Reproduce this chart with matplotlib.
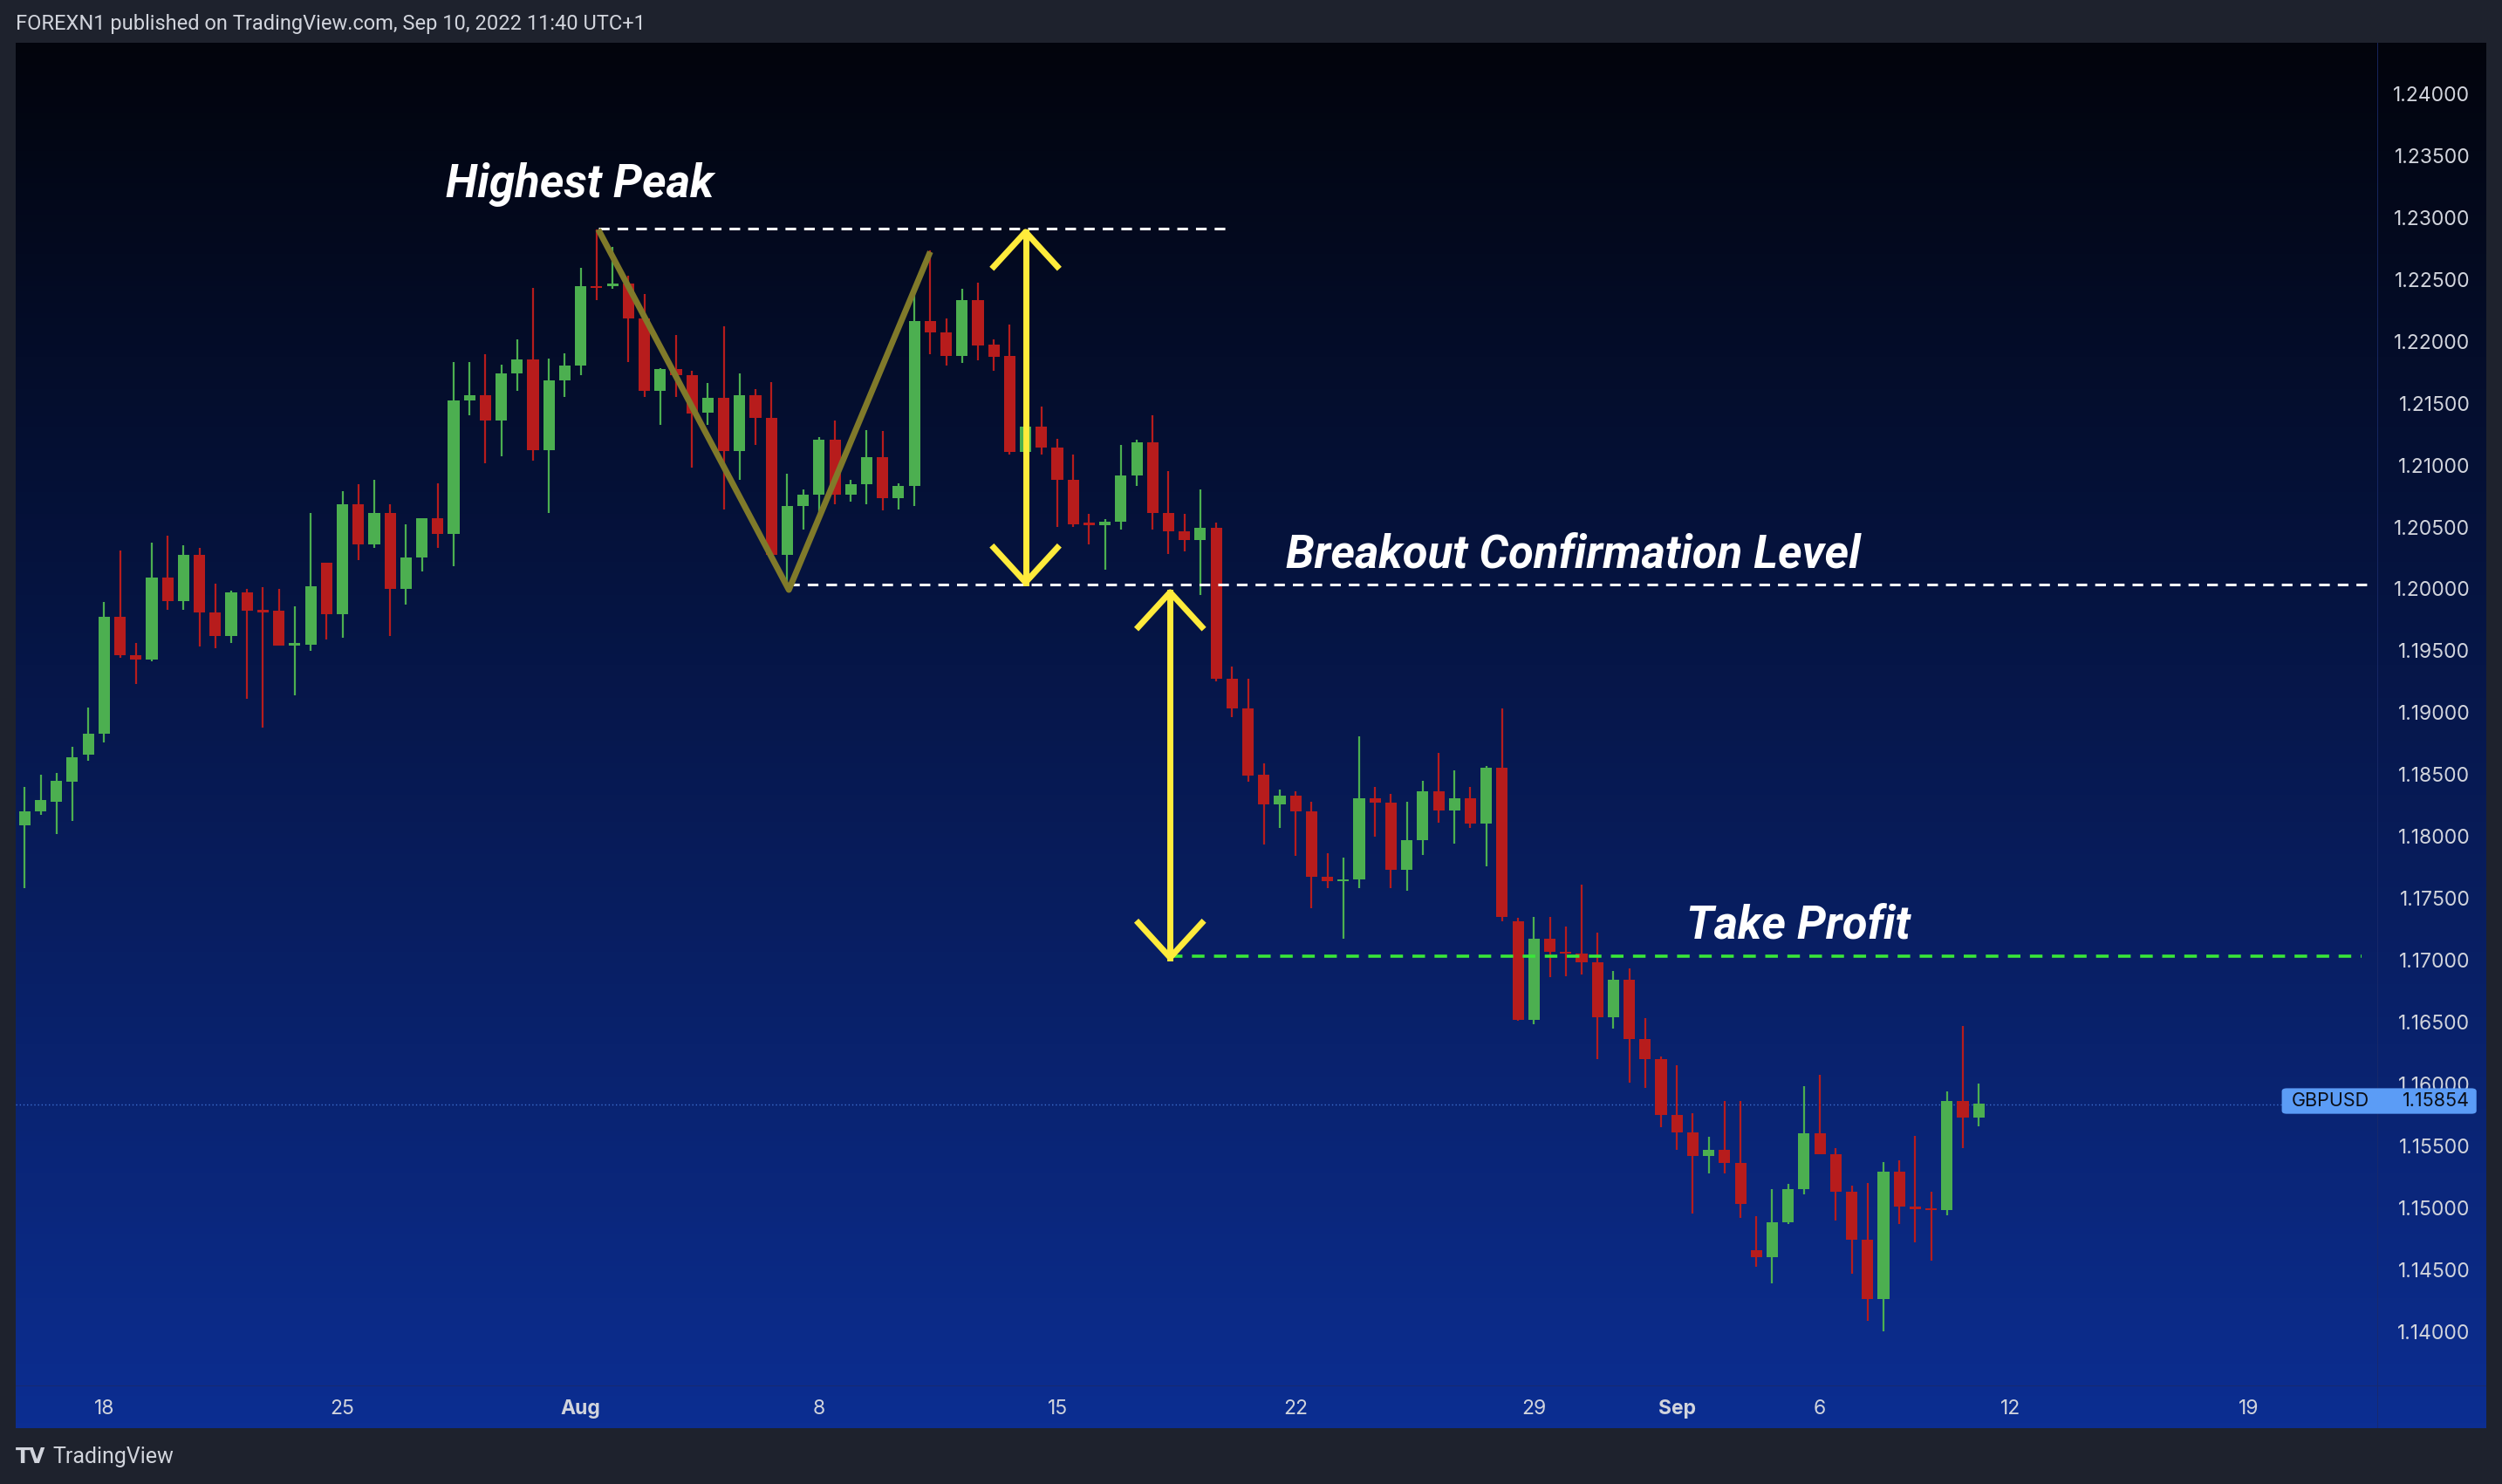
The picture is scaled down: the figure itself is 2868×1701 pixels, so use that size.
import numpy as np
import matplotlib
matplotlib.use("Agg")
import matplotlib.pyplot as plt
from matplotlib.transforms import blended_transform_factory
from matplotlib.patches import FancyBboxPatch

opens = [1.1811,1.1822,1.1830,1.1846,1.1868,1.1885,1.1979,1.1948,1.1945,1.2011,1.1992,1.2029,1.1983,1.1964,1.1999,1.1985,1.1984,1.1956,1.1957,1.2023,
         1.1981,1.2070,1.2038,1.2063,1.2002,1.2027,1.2059,1.2046,1.2154,1.2158,1.2138,1.2176,1.2187,1.2114,1.2170,1.2182,1.2246,1.2246,1.2248,1.2220,
         1.2162,1.2179,1.2174,1.2144,1.2156,1.2113,1.2158,1.2140,1.2029,1.2069,1.2078,1.2122,1.2078,1.2086,1.2108,1.2075,1.2085,1.2218,1.2209,1.2190,
         1.2235,1.2199,1.2190,1.2112,1.2133,1.2116,1.2090,1.2055,1.2053,1.2056,1.2093,1.2120,1.2063,1.2048,1.2041,1.2051,1.1929,1.1905,1.1852,1.1828,
         1.1835,1.1822,1.1769,1.1766,1.1767,1.1833,1.1829,1.1775,1.1799,1.1838,1.1823,1.1833,1.1812,1.1857,1.1733,1.1654,1.1719,1.1709,1.1707,1.1700,
         1.1656,1.1686,1.1638,1.1622,1.1577,1.1563,1.1544,1.1549,1.1538,1.1468,1.1462,1.1490,1.1517,1.1562,1.1545,1.1515,1.1476,1.1428,1.1531,1.1503,
         1.1501,1.1500,1.1588,1.1575]
closes = [1.1822,1.1831,1.1847,1.1866,1.1885,1.1979,1.1948,1.1945,1.2011,1.1992,1.2029,1.1983,1.1964,1.1999,1.1984,1.1983,1.1956,1.1958,1.2004,1.1981,
          1.2070,1.2038,1.2063,1.2002,1.2027,1.2059,1.2046,1.2154,1.2158,1.2138,1.2176,1.2187,1.2114,1.2170,1.2182,1.2246,1.2245,1.2248,1.2220,1.2162,
          1.2179,1.2174,1.2143,1.2156,1.2113,1.2158,1.2140,1.2029,1.2069,1.2078,1.2122,1.2078,1.2086,1.2108,1.2075,1.2085,1.2218,1.2209,1.2190,1.2235,
          1.2198,1.2189,1.2112,1.2133,1.2116,1.2090,1.2054,1.2053,1.2056,1.2093,1.2120,1.2063,1.2048,1.2041,1.2051,1.1929,1.1905,1.1851,1.1828,1.1835,
          1.1822,1.1769,1.1766,1.1767,1.1833,1.1829,1.1775,1.1799,1.1838,1.1823,1.1833,1.1812,1.1857,1.1737,1.1654,1.1719,1.1709,1.1707,1.1700,1.1656,
          1.1686,1.1638,1.1622,1.1577,1.1563,1.1544,1.1549,1.1538,1.1505,1.1462,1.1490,1.1517,1.1562,1.1545,1.1515,1.1476,1.1428,1.1531,1.1503,1.1501,
          1.1500,1.1588,1.1575,1.1586]
highs = [1.1842,1.1852,1.1853,1.1874,1.1906,1.1991,1.2033,1.1958,1.2039,1.2045,1.2037,1.2035,1.2006,1.2000,1.2002,1.2003,1.2002,1.1988,1.2063,1.2023,
         1.2081,1.2086,1.2090,1.2070,1.2054,1.2059,1.2087,1.2185,1.2185,1.2191,1.2183,1.2203,1.2245,1.2188,1.2192,1.2261,1.2292,1.2278,1.2255,1.2240,
         1.2180,1.2207,1.2178,1.2168,1.2214,1.2176,1.2163,1.2169,1.2095,1.2082,1.2124,1.2138,1.2090,1.2130,1.2129,1.2087,1.2245,1.2275,1.2220,1.2244,
         1.2249,1.2203,1.2215,1.2147,1.2149,1.2123,1.2110,1.2062,1.2058,1.2118,1.2122,1.2142,1.2097,1.2062,1.2082,1.2055,1.1939,1.1929,1.1861,1.1840,
         1.1838,1.1830,1.1788,1.1785,1.1883,1.1842,1.1836,1.1830,1.1847,1.1869,1.1855,1.1842,1.1859,1.1905,1.1736,1.1737,1.1737,1.1729,1.1763,1.1724,
         1.1693,1.1695,1.1655,1.1624,1.1617,1.1578,1.1559,1.1588,1.1588,1.1495,1.1517,1.1521,1.1600,1.1609,1.1550,1.1520,1.1522,1.1539,1.1540,1.1560,
         1.1515,1.1596,1.1649,1.1602]
lows = [1.1760,1.1819,1.1804,1.1814,1.1863,1.1878,1.1946,1.1925,1.1943,1.1985,1.1985,1.1955,1.1954,1.1958,1.1913,1.1890,1.1956,1.1916,1.1952,1.1961,
        1.1962,1.2025,1.2035,1.1964,1.1989,1.2016,1.2035,1.2020,1.2142,1.2103,1.2109,1.2162,1.2105,1.2063,1.2157,1.2174,1.2235,1.2244,1.2185,1.2157,
        1.2134,1.2157,1.2100,1.2134,1.2066,1.2090,1.2118,1.2029,1.2005,1.2050,1.2057,1.2070,1.2072,1.2070,1.2065,1.2066,1.2069,1.2191,1.2182,1.2184,
        1.2186,1.2178,1.2110,1.2098,1.2110,1.2052,1.2052,1.2038,1.2017,1.2050,1.2085,1.2050,1.2030,1.2032,1.1997,1.1927,1.1898,1.1846,1.1795,1.1809,
        1.1786,1.1744,1.1760,1.1719,1.1760,1.1802,1.1760,1.1758,1.1787,1.1813,1.1796,1.1809,1.1778,1.1733,1.1653,1.1650,1.1688,1.1689,1.1690,1.1622,
        1.1647,1.1603,1.1599,1.1567,1.1549,1.1497,1.1530,1.1530,1.1494,1.1454,1.1441,1.1489,1.1513,1.1545,1.1492,1.1449,1.1411,1.1402,1.1489,1.1474,
        1.1459,1.1496,1.1550,1.1568]

tick_pos = [5, 20, 35, 50, 65, 80, 95, 104, 113, 125, 140]
tick_labels = ["18", "25", "Aug", "8", "15", "22", "29", "Sep", "6", "12", "19"]
price_ticks = [1.140, 1.145, 1.150, 1.155, 1.160, 1.165, 1.170, 1.175, 1.180, 1.185,
               1.190, 1.195, 1.200, 1.205, 1.210, 1.215, 1.220, 1.225, 1.230, 1.235, 1.240]
last_price = 1.15854
peak_level = 1.2293
breakout_level = 1.2005
tp_level = 1.1705
pattern_x = [36.1, 48.1, 57.0]
pattern_y = [1.2292, 1.2001, 1.2274]

W, H = 1568, 930
fig = plt.figure(figsize=(28.68, 17.01), dpi=100)
fig.patch.set_facecolor("#1e222d")

def rect(l, t, r, b):
    return [l / W, 1 - b / H, (r - l) / W, (b - t) / H]

bg = fig.add_axes(rect(10, 27, 1558, 895))
grad = np.linspace(0, 1, 256)[:, None]
c0 = np.array([0x02, 0x04, 0x0c]) / 255
c1 = np.array([0x06, 0x16, 0x48]) / 255
c2 = np.array([0x0c, 0x2e, 0x92]) / 255
cols = np.where(grad[..., None] < 0.45, c0 + (c1 - c0) * (grad[..., None] / 0.45),
                c1 + (c2 - c1) * ((grad[..., None] - 0.45) / 0.55))
bg.imshow(cols, aspect="auto", extent=[0, 1, 0, 1], origin="upper")
bg.set_axis_off()
bg.axhline(1 - (868 - 27) / (895 - 27), color="#1a2a6a", lw=0.6)
bg.axvline((1490 - 10) / (1558 - 10), color="#1a2a6a", lw=0.6)

ax = fig.add_axes(rect(10, 27, 1490, 868))
ax.patch.set_alpha(0)
ax.set_xlim(-0.55, 148.1)
ax.set_ylim(1.13588, 1.24425)
for s in ax.spines.values():
    s.set_visible(False)
ax.set_xticks([]); ax.set_yticks([])

x = np.arange(len(opens))
o = np.array(opens); c = np.array(closes)
up = c >= o
colors = np.where(up, "#4caf50", "#b71c1c")
ax.vlines(x, lows, highs, colors=colors, lw=1.6, zorder=3)
bottom = np.minimum(o, c)
height = np.maximum(np.abs(c - o), 0.00012)
ax.bar(x, height, bottom=bottom, width=0.72, color=colors, zorder=4)

ax.axhline(last_price, color="#3d6fd0", lw=1, ls=(0, (1, 2)), zorder=2)

ax.plot([36.1, 76.0], [peak_level] * 2, color="white", lw=2.2, ls=(0, (4, 3)), zorder=5)
ax.plot([48.1, 147.9], [breakout_level] * 2, color="white", lw=2.2, ls=(0, (4, 3)), zorder=5)
ax.plot([72.1, 147.1], [tp_level] * 2, color="#39e639", lw=2.6, ls=(0, (4, 3)), zorder=5)

ax.plot(pattern_x, pattern_y, color="#807a2a", lw=5, zorder=6, solid_capstyle="butt")

def double_arrow(xc, ytop, ybot):
    ax.plot([xc, xc], [ytop, ybot], color="#ffeb3b", lw=5, zorder=7)
    dx, dy = 2.0, 0.0028
    ax.plot([xc - dx, xc, xc + dx], [ytop - dy, ytop, ytop - dy], color="#ffeb3b", lw=5, zorder=7)
    ax.plot([xc - dx, xc, xc + dx], [ybot + dy, ybot, ybot + dy], color="#ffeb3b", lw=5, zorder=7)

double_arrow(63.0, 1.2290, 1.2007)
double_arrow(72.1, 1.1999, 1.1704)

tf = dict(color="white", fontsize=38, fontweight="bold", style="italic", family="Roboto", zorder=8)
ax.text(26.5, 1.2328, "Highest Peak", ha="left", va="center", **tf)
ax.text(79.4, 1.2029, "Breakout Confirmation Level", ha="left", va="center", **tf)
ax.text(104.6, 1.1730, "Take Profit", ha="left", va="center", **tf)

tr = blended_transform_factory(ax.transData, fig.transFigure)
for p, lab in zip(tick_pos, tick_labels):
    ax.text(p, 1 - 883 / H, lab, transform=tr, ha="center", va="center",
            color="#d1d4dc", fontsize=16.5, family="Inter",
            fontweight="bold" if lab in ("Aug", "Sep") else "normal")

tr2 = blended_transform_factory(fig.transFigure, ax.transData)
for pt in price_ticks:
    ax.text(1548 / W, pt, f"{pt:.5f}", transform=tr2, ha="right", va="center",
            color="#d1d4dc", fontsize=16.5, family="Inter", clip_on=False)

y0 = 1 - 698 / H
box = FancyBboxPatch((1430 / W, y0), 122 / W, 16 / H, boxstyle="round,pad=0,rounding_size=0.002",
                     transform=fig.transFigure, facecolor="#5b9cf6", edgecolor="none", zorder=9)
fig.patches.append(box)
fig.text(1436 / W, 1 - 690 / H, "GBPUSD", ha="left", va="center", color="#0b0e16", fontsize=15.5, family="Inter", zorder=10)
fig.text(1548 / W, 1 - 690 / H, f"{last_price:.5f}", ha="right", va="center", color="#0b0e16", fontsize=15.5, family="Inter", zorder=10)

fig.text(10 / W, 1 - 15 / H, "FOREXN1 published on TradingView.com, Sep 10, 2022 11:40 UTC+1",
         ha="left", va="center", color="#d1d4dc", fontsize=17, family="Roboto")
fig.text(10 / W, 1 - 913 / H, "TV", ha="left", va="center", color="#d1d4dc",
         fontsize=17, family="DejaVu Sans", fontweight="bold")
fig.text(33 / W, 1 - 913 / H, "TradingView", ha="left", va="center", color="#d1d4dc",
         fontsize=18, family="Roboto")

fig.savefig("out.png", dpi=100, facecolor=fig.get_facecolor())
